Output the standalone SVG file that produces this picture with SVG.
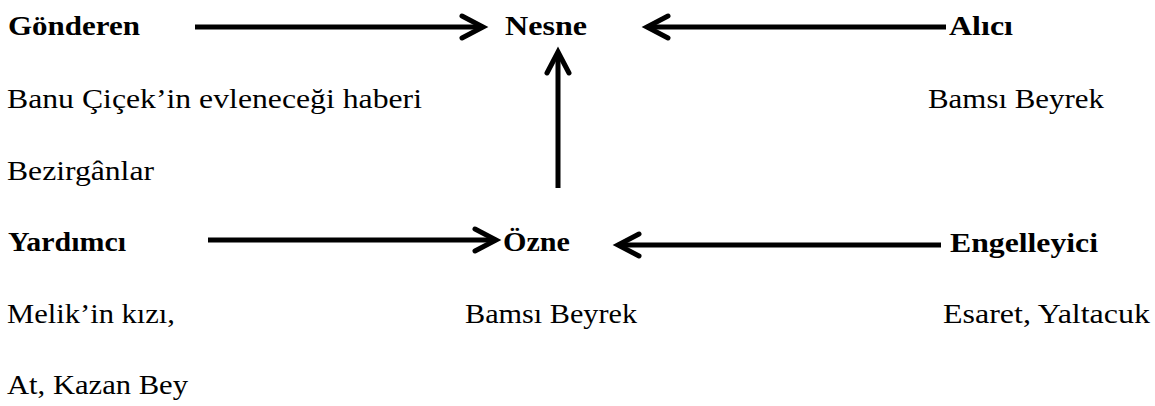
<svg xmlns="http://www.w3.org/2000/svg" width="1155" height="406" viewBox="0 0 1155 406">
<style>
text{font-family:"Liberation Serif","Times New Roman",serif;font-size:28px;fill:#000}
.b{font-weight:bold}
.arr{stroke:#000;stroke-width:5;fill:none;marker-end:url(#head)}
</style>
<defs>
<marker id="head" markerUnits="userSpaceOnUse" markerWidth="40" markerHeight="40" viewBox="-30 -20 40 40" refX="0" refY="0" orient="auto" overflow="visible">
<path d="M-21,-11 L0,0 L-21,11" stroke="#000" stroke-width="5" fill="none" stroke-linecap="round" stroke-linejoin="miter"/>
</marker>
</defs>
<rect width="1155" height="406" fill="#fff"/>
<g id="connectors">
<path class="arr" d="M195,27 H483"/>
<path class="arr" d="M946,27 H647"/>
<path class="arr" d="M558,188 V52"/>
<path class="arr" d="M208,240 H496"/>
<path class="arr" d="M941,245 H618"/>
</g>
<g id="gonderen"><text class="b" x="8" y="35" textLength="132" lengthAdjust="spacingAndGlyphs">Gönderen</text>
<text x="7" y="108" textLength="415" lengthAdjust="spacingAndGlyphs">Banu Çiçek’in evleneceği haberi</text>
<text x="7" y="180" textLength="147" lengthAdjust="spacingAndGlyphs">Bezirgânlar</text></g>
<g id="nesne"><text class="b" x="505" y="35" textLength="82" lengthAdjust="spacingAndGlyphs">Nesne</text></g>
<g id="alici"><text class="b" x="949" y="35" textLength="64" lengthAdjust="spacingAndGlyphs">Alıcı</text>
<text x="928" y="108" textLength="176" lengthAdjust="spacingAndGlyphs">Bamsı Beyrek</text></g>
<g id="yardimci"><text class="b" x="8" y="251" textLength="118" lengthAdjust="spacingAndGlyphs">Yardımcı</text>
<text x="7" y="323" textLength="168" lengthAdjust="spacingAndGlyphs">Melik’in kızı,</text>
<text x="7" y="394" textLength="181" lengthAdjust="spacingAndGlyphs">At, Kazan Bey</text></g>
<g id="ozne"><text class="b" x="503" y="251" textLength="67" lengthAdjust="spacingAndGlyphs">Özne</text>
<text x="465" y="323" textLength="172" lengthAdjust="spacingAndGlyphs">Bamsı Beyrek</text></g>
<g id="engelleyici"><text class="b" x="950" y="252" textLength="148" lengthAdjust="spacingAndGlyphs">Engelleyici</text>
<text x="943" y="323" textLength="207" lengthAdjust="spacingAndGlyphs">Esaret, Yaltacuk</text></g>
</svg>
